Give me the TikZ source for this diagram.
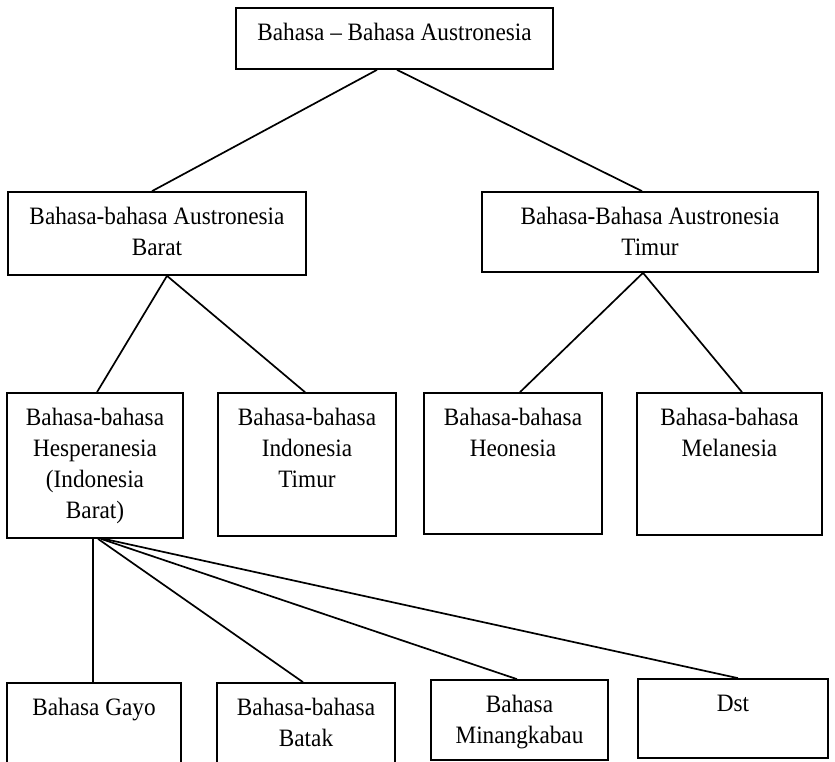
\documentclass[tikz,border=0pt]{standalone}
\usepackage{fontspec}
\setmainfont{Liberation Serif}[FakeStretch=0.93]
\begin{document}
\begin{tikzpicture}[x=1pt,y=-1pt,
  box/.style={draw, line width=1.7pt, rectangle, inner sep=0pt},
  lbl/.style={inner sep=0pt, align=center, anchor=north, font=\fontsize{25}{31}\selectfont},
  link/.style={line width=1.7pt}]
\useasboundingbox (0,0) rectangle (835,762);
% boxes
\node[box, minimum width=317pt, minimum height=61pt] (top) at (394.5,38.5) {};
\node[box, minimum width=298pt, minimum height=83pt] (wb) at (157,233.5) {};
\node[box, minimum width=336pt, minimum height=80pt] (eb) at (650,232) {};
\node[box, minimum width=176pt, minimum height=145pt] (hes) at (95,465.5) {};
\node[box, minimum width=178pt, minimum height=143pt] (it) at (307,464.5) {};
\node[box, minimum width=178pt, minimum height=141pt] (heo) at (513,463.5) {};
\node[box, minimum width=185pt, minimum height=142pt] (mel) at (729.5,464) {};
\node[box, minimum width=174pt, minimum height=100pt] (gayo) at (94,733) {};
\node[box, minimum width=178pt, minimum height=100pt] (batak) at (306,733) {};
\node[box, minimum width=177pt, minimum height=80pt] (mina) at (519.5,720) {};
\node[box, minimum width=190pt, minimum height=79pt] (dst) at (733,718.5) {};
% labels
\node[lbl] (toptxt) at ([yshift=-11.3pt]top.north) {\strut Bahasa – Bahasa Austronesia};
\node[lbl] (wbtxt) at ([yshift=-11.3pt]wb.north) {\strut Bahasa-bahasa Austronesia\\Barat};
\node[lbl] (ebtxt) at ([yshift=-11.3pt]eb.north) {\strut Bahasa-Bahasa Austronesia\\Timur};
\node[lbl] (hestxt) at ([yshift=-11.3pt]hes.north) {\strut Bahasa-bahasa\\Hesperanesia\\(Indonesia\\Barat)};
\node[lbl] (ittxt) at ([yshift=-11.3pt]it.north) {\strut Bahasa-bahasa\\Indonesia\\Timur};
\node[lbl] (heotxt) at ([yshift=-11.3pt]heo.north) {\strut Bahasa-bahasa\\Heonesia};
\node[lbl] (meltxt) at ([yshift=-11.3pt]mel.north) {\strut Bahasa-bahasa\\Melanesia};
\node[lbl] (gayotxt) at ([yshift=-11.3pt]gayo.north) {\strut Bahasa Gayo};
\node[lbl] (bataktxt) at ([yshift=-11.3pt]batak.north) {\strut Bahasa-bahasa\\Batak};
\node[lbl] (minatxt) at ([yshift=-11.3pt]mina.north) {\strut Bahasa\\Minangkabau};
\node[lbl] (dsttxt) at ([yshift=-11.3pt]dst.north) {\strut Dst};
% connectors
\draw[link] ([xshift=-17.5pt]top.south) -- ([xshift=-5pt]wb.north);
\draw[link] ([xshift=2.5pt]top.south) -- ([xshift=-8pt]eb.north);
\draw[link] ([xshift=10pt]wb.south) -- ([xshift=2pt]hes.north);
\draw[link] ([xshift=10pt]wb.south) -- ([xshift=-2pt]it.north);
\draw[link] ([xshift=-7pt]eb.south) -- ([xshift=7pt]heo.north);
\draw[link] ([xshift=-7pt]eb.south) -- ([xshift=12.5pt]mel.north);
\draw[link] ([xshift=-2pt]hes.south) -- ([xshift=-1pt]gayo.north);
\draw[link] ([xshift=3pt]hes.south) -- ([xshift=-3pt]batak.north);
\draw[link] ([xshift=6pt]hes.south) -- ([xshift=-2.5pt]mina.north);
\draw[link] ([xshift=9pt]hes.south) -- ([xshift=5pt]dst.north);
\end{tikzpicture}
\end{document}
